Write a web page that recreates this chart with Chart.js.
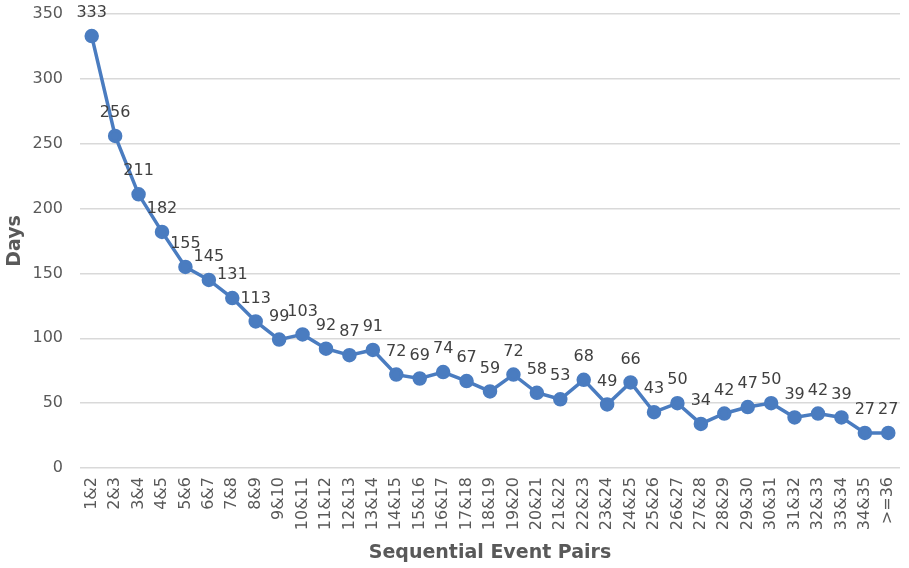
<!DOCTYPE html>
<html>
<head>
<meta charset="utf-8">
<script src="https://cdn.jsdelivr.net/npm/chart.js@4"></script>
<style>
html,body{margin:0;padding:0;background:#fff;}
#wrap{width:909px;height:568px;}
</style>
</head>
<body>
<div id="wrap"><canvas id="c" width="909" height="568"></canvas></div>
<script>
const categories = ["1&2","2&3","3&4","4&5","5&6","6&7","7&8","8&9","9&10","10&11","11&12","12&13","13&14","14&15","15&16","16&17","17&18","18&19","19&20","20&21","21&22","22&23","23&24","24&25","25&26","26&27","27&28","28&29","29&30","30&31","31&32","32&33","33&34","34&35",">=36"];
const days = [333,256,211,182,155,145,131,113,99,103,92,87,91,72,69,74,67,59,72,58,53,68,49,66,43,50,34,42,47,50,39,42,39,27,27];
const yTicks = [0,50,100,150,200,250,300,350];

const FONT = "'DejaVu Sans', Verdana, sans-serif";
const labelPlugin = {
  id: 'pointLabels',
  afterDatasetsDraw(chart) {
    const ctx = chart.ctx;
    const meta = chart.getDatasetMeta(0);
    ctx.save();
    ctx.font = "16px " + FONT;
    ctx.fillStyle = "#404040";
    ctx.textAlign = "center";
    ctx.textBaseline = "middle";
    meta.data.forEach((pt, i) => {
      ctx.fillText(String(days[i]), pt.x, pt.y - 23);
    });
    ctx.restore();
  }
};

new Chart(document.getElementById('c'), {
  type: 'line',
  data: {
    labels: categories,
    datasets: [{
      data: days,
      borderColor: '#4A7CC0',
      backgroundColor: '#4A7CC0',
      pointBackgroundColor: '#4A7CC0',
      pointBorderColor: '#4A7CC0',
      borderWidth: 3.5,
      pointRadius: 5.5,
      tension: 0,
      clip: false
    }]
  },
  options: {
    responsive: false,
    animation: false,
    layout: { padding: { top: 14, right: 9, left: 0, bottom: 0 } },
    plugins: { legend: { display: false }, tooltip: { enabled: false } },
    scales: {
      x: {
        offset: true,
        afterFit(axis) { axis.paddingLeft = 0; axis.paddingRight = 0; },
        grid: { display: false, drawTicks: false },
        border: { display: false },
        ticks: {
          autoSkip: false, maxRotation: 90, minRotation: 90,
          font: { size: 16, family: FONT }, color: '#595959', padding: 9
        },
        title: {
          display: true, text: 'Sequential Event Pairs',
          font: { size: 19, weight: 'bold', family: FONT }, color: '#595959', padding: { top: 2 }
        }
      },
      y: {
        min: 0, max: 350,
        afterBuildTicks(axis) { axis.ticks = yTicks.map(v => ({ value: v })); },
        afterFit(axis) { axis.width = 80; axis.paddingTop = 0; axis.paddingBottom = 0; },
        grid: { color: '#d9d9d9', lineWidth: 1.5, drawTicks: false },
        border: { display: false },
        ticks: { font: { size: 16, family: FONT }, color: '#595959', padding: 17 },
        title: {
          display: true, text: 'Days',
          font: { size: 19, weight: 'bold', family: FONT }, color: '#595959', padding: { top: 4, bottom: 4 }
        }
      }
    }
  },
  plugins: [labelPlugin]
});
</script>
</body>
</html>
